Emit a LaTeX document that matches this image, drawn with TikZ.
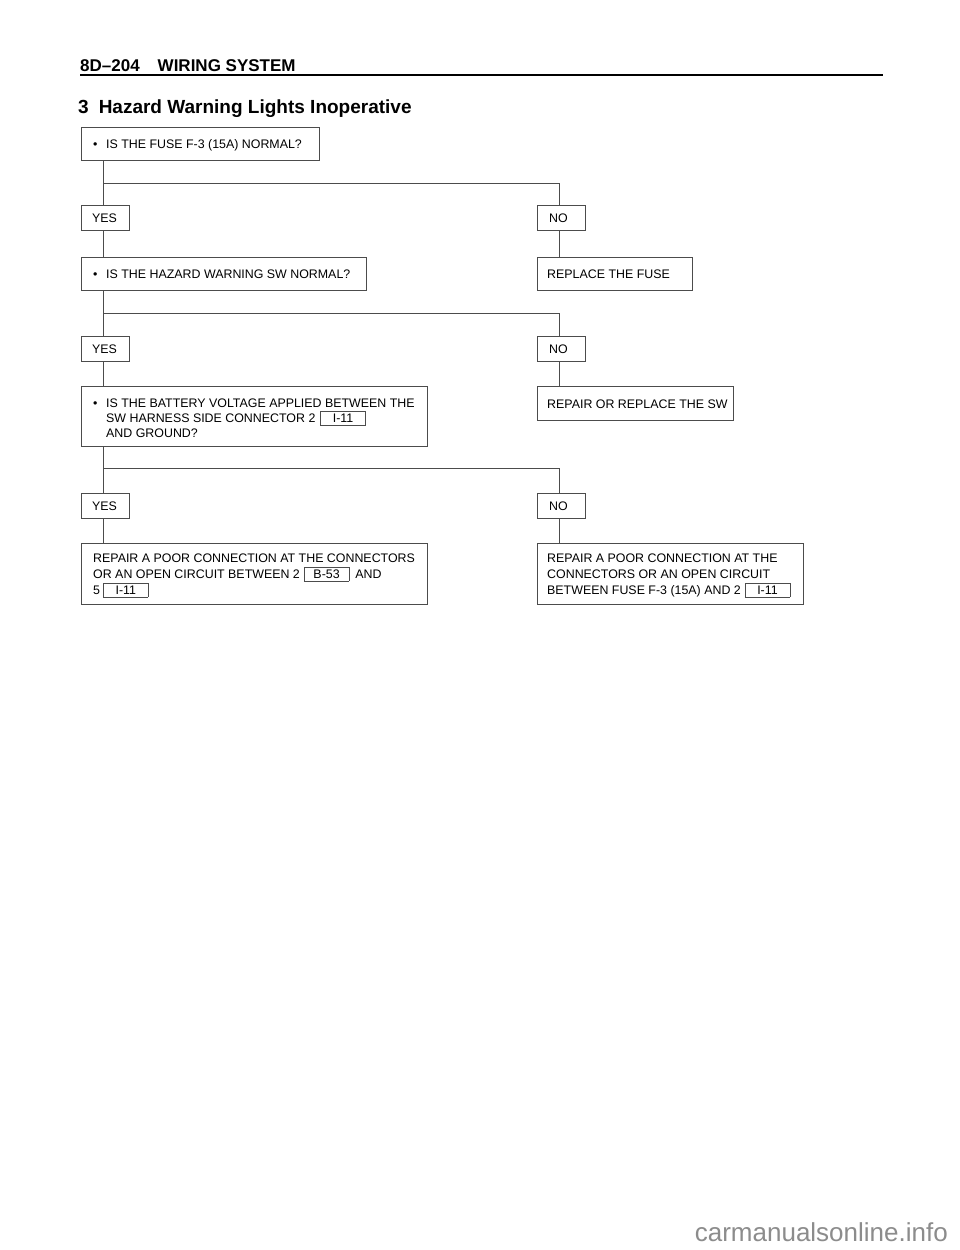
\documentclass[tikz,border=0pt]{standalone}
\usepackage{fontspec}
\setmainfont{Liberation Sans}
\definecolor{linecol}{gray}{0.3}
\definecolor{wmcol}{gray}{0.55}
\newcommand\connbox[1]{{\setlength\fboxsep{0pt}\setlength\fboxrule{0.7pt}\fcolorbox{linecol}{white}{\makebox[44pt]{\rule[-2.5pt]{0pt}{13.3pt}#1}}}}
\newcommand\bul{\makebox[13pt][l]{\textbullet}}
\begin{document}
\begin{tikzpicture}[x=1pt,y=-1pt,
  fbox/.style={draw=linecol,line width=1pt,inner sep=0pt,anchor=north west},
  txt/.style={anchor=base west,inner sep=0pt,font=\fontsize{12.4}{15}\selectfont},
  conn/.style={draw=linecol,line width=1pt}]
\useasboundingbox[fill=white] (0,0) rectangle (960,1250);
% header
\node[anchor=base west,inner sep=0pt,font=\bfseries\fontsize{17}{20}\selectfont] (hdr) at (80,71) {8D–204\hspace{18pt}WIRING SYSTEM};
\draw[line width=2.2pt] (80,75) -- (883,75);
\node[anchor=base west,inner sep=0pt,font=\bfseries\fontsize{19}{22}\selectfont] (title) at (78,113) {3\hspace{10pt}Hazard Warning Lights Inoperative};
% boxes
\node[fbox,minimum width=238pt,minimum height=33pt] (b1) at (81,127) {};
\node[fbox,minimum width=48pt,minimum height=25pt] (yes1) at (81,205) {};
\node[fbox,minimum width=48pt,minimum height=25pt] (no1) at (537,205) {};
\node[fbox,minimum width=285pt,minimum height=33pt] (b2) at (81,257) {};
\node[fbox,minimum width=155pt,minimum height=33pt] (fuse) at (537,257) {};
\node[fbox,minimum width=48pt,minimum height=25pt] (yes2) at (81,336) {};
\node[fbox,minimum width=48pt,minimum height=25pt] (no2) at (537,336) {};
\node[fbox,minimum width=346pt,minimum height=60pt] (b3) at (81,386) {};
\node[fbox,minimum width=196pt,minimum height=34pt] (sw) at (537,386) {};
\node[fbox,minimum width=48pt,minimum height=25pt] (yes3) at (81,493) {};
\node[fbox,minimum width=48pt,minimum height=25pt] (no3) at (537,493) {};
\node[fbox,minimum width=346pt,minimum height=61pt] (b4) at (81,543) {};
\node[fbox,minimum width=266pt,minimum height=61pt] (b5) at (537,543) {};
% connectors
\coordinate (L) at (103,0);
\coordinate (R) at (559,0);
\coordinate (h1) at (103,183);
\coordinate (h2) at (103,313);
\coordinate (h3) at (103,468);
\draw[conn] (b1.south -| L) -- (yes1.north -| L);
\draw[conn] (h1) -| (no1.north -| R);
\draw[conn] (yes1.south -| L) -- (b2.north -| L);
\draw[conn] (no1.south -| R) -- (fuse.north -| R);
\draw[conn] (b2.south -| L) -- (yes2.north -| L);
\draw[conn] (h2) -| (no2.north -| R);
\draw[conn] (yes2.south -| L) -- (b3.north -| L);
\draw[conn] (no2.south -| R) -- (sw.north -| R);
\draw[conn] (b3.south -| L) -- (yes3.north -| L);
\draw[conn] (h3) -| (no3.north -| R);
\draw[conn] (yes3.south -| L) -- (b4.north -| L);
\draw[conn] (no3.south -| R) -- (b5.north -| R);
% texts
\node[txt] (t1) at (93,148) {\bul IS THE FUSE F-3 (15A) NORMAL?};
\node[txt] (ty1) at (92,222) {YES};
\node[txt] (tn1) at (549,222) {NO};
\node[txt] (t2) at (93,278) {\bul IS THE HAZARD WARNING SW NORMAL?};
\node[txt] (tf) at (547,278) {REPLACE THE FUSE};
\node[txt] (ty2) at (92,353) {YES};
\node[txt] (tn2) at (549,353) {NO};
\node[txt] (t3a) at (93,407) {\bul IS THE BATTERY VOLTAGE APPLIED BETWEEN THE};
\node[txt] (t3b) at (106,422) {SW HARNESS SIDE CONNECTOR 2\hspace{5pt}\connbox{I-11}};
\node[txt] (t3c) at (106,437) {AND GROUND?};
\node[txt] (tsw) at (547,408) {REPAIR OR REPLACE THE SW};
\node[txt] (ty3) at (92,510) {YES};
\node[txt] (tn3) at (549,510) {NO};
\node[txt] (t4a) at (93,562) {REPAIR A POOR CONNECTION AT THE CONNECTORS};
\node[txt] (t4b) at (93,578) {OR AN OPEN CIRCUIT BETWEEN 2\hspace{4pt}\connbox{B-53}\hspace{6pt}AND};
\node[txt] (t4c) at (93,594) {5\hspace{3pt}\connbox{I-11}};
\node[txt] (t5a) at (547,562) {REPAIR A POOR CONNECTION AT THE};
\node[txt] (t5b) at (547,578) {CONNECTORS OR AN OPEN CIRCUIT};
\node[txt] (t5c) at (547,594) {BETWEEN FUSE F-3 (15A) AND 2\hspace{4pt}\connbox{I-11}};
% watermark
\node[anchor=base east,inner sep=0pt,text=wmcol,font=\fontsize{26}{30}\selectfont] (wm) at (948,1241) {carmanualsonline.info};
\end{tikzpicture}
\end{document}
